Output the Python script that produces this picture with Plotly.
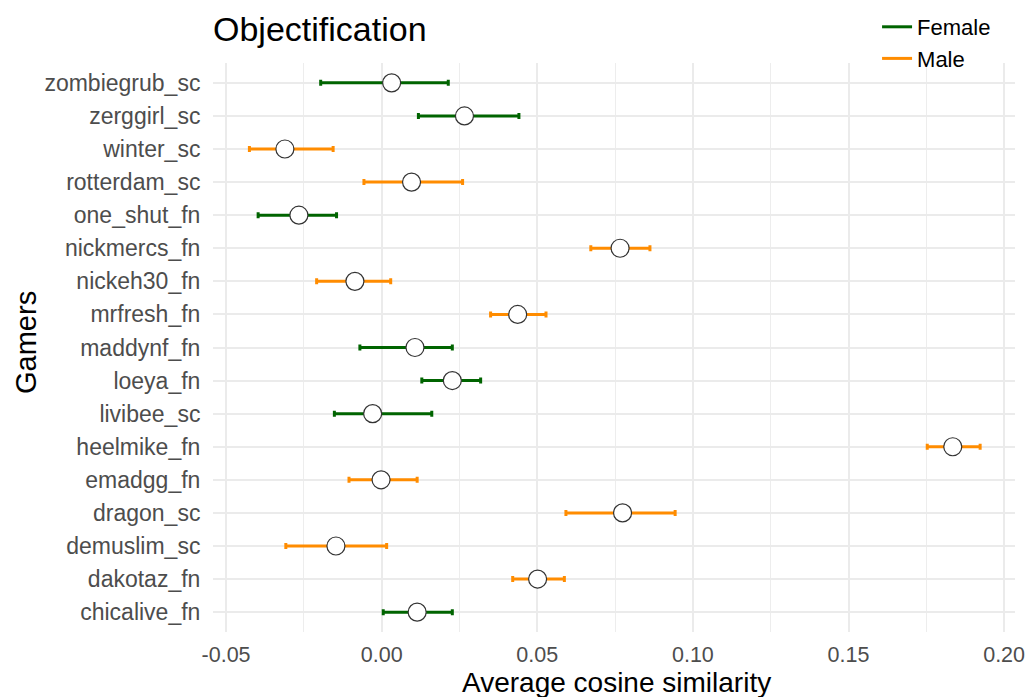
import plotly.graph_objects as go

# Data (top to bottom in the chart)
gamers = ["zombiegrub_sc", "zerggirl_sc", "winter_sc", "rotterdam_sc", "one_shut_fn",
          "nickmercs_fn", "nickeh30_fn", "mrfresh_fn", "maddynf_fn", "loeya_fn",
          "livibee_sc", "heelmike_fn", "emadgg_fn", "dragon_sc", "demuslim_sc",
          "dakotaz_fn", "chicalive_fn"]
gender = ["Female", "Female", "Male", "Male", "Female",
          "Male", "Male", "Male", "Female", "Female",
          "Female", "Male", "Male", "Male", "Male",
          "Male", "Female"]
mean_sim = [0.0032, 0.0266, -0.0311, 0.0096, -0.0266,
            0.0766, -0.0086, 0.0437, 0.0107, 0.0227,
            -0.0029, 0.1835, -0.0002, 0.0774, -0.0147,
            0.0501, 0.0114]
ci_low = [-0.0196, 0.0118, -0.0425, -0.0057, -0.0397,
          0.0672, -0.0209, 0.0350, -0.0070, 0.0129,
          -0.0152, 0.1753, -0.0105, 0.0592, -0.0308,
          0.0421, 0.0005]
ci_high = [0.0214, 0.0441, -0.0156, 0.0260, -0.0145,
           0.0862, 0.0029, 0.0528, 0.0227, 0.0318,
           0.0161, 0.1923, 0.0114, 0.0943, 0.0016,
           0.0587, 0.0227]

colors = {"Female": "#006400", "Male": "#FF8C00"}
FONT = "Liberation Sans, Arial, Helvetica, sans-serif"

W, H = 1029, 697
ML, MR, MT, MB = 213, 14, 63, 65
PH = H - MT - MB

def py(pix):
    """paper y from pixel row"""
    return (H - MB - pix) / PH

def px(pix):
    return (pix - ML) / (W - ML - MR)

fig = go.Figure()

for g in ["Female", "Male"]:
    idx = [i for i, v in enumerate(gender) if v == g]
    xs = [mean_sim[i] for i in idx]
    ys = [gamers[i] for i in idx]
    plus = [ci_high[i] - mean_sim[i] for i in idx]
    minus = [mean_sim[i] - ci_low[i] for i in idx]
    fig.add_trace(go.Scatter(
        x=xs, y=ys, mode="markers", showlegend=False, name=g,
        marker=dict(size=18, color="white", line=dict(color="#333333", width=1.2)),
        error_x=dict(type="data", symmetric=False, array=plus, arrayminus=minus,
                     color=colors[g], thickness=3, width=3),
    ))

for g in ["Female", "Male"]:
    fig.add_trace(go.Scatter(
        x=[None], y=[None], mode="lines", name=g,
        line=dict(color=colors[g], width=3),
    ))

fig.update_layout(
    width=W, height=H,
    margin=dict(l=ML, r=MR, t=MT, b=MB, autoexpand=False),
    paper_bgcolor="white", plot_bgcolor="white",
    font=dict(family=FONT, color="#4D4D4D", size=22),
    title=dict(text="Objectification", x=213 / W, xanchor="left",
               y=1 - 29 / H, yanchor="middle",
               font=dict(family=FONT, size=34, color="black")),
    legend=dict(x=0.828, y=py(6), xanchor="left", yanchor="top",
                font=dict(family=FONT, size=22, color="black"),
                bgcolor="rgba(0,0,0,0)", tracegroupgap=0),
    xaxis=dict(
        range=[-0.0542, 0.2035],
        tickvals=[-0.05, 0.0, 0.05, 0.10, 0.15, 0.20],
        ticktext=["-0.05", "0.00", "0.05", "0.10", "0.15", "0.20"],
        showgrid=True, gridcolor="#EBEBEB", gridwidth=2,
        zeroline=False, showline=False,
        ticks="outside", ticklen=3, tickcolor="rgba(0,0,0,0)",
        tickfont=dict(family=FONT, size=21.5, color="#4D4D4D"),
        minor=dict(dtick=0.025, tick0=0, showgrid=True, gridcolor="#EDEDED", gridwidth=1),
        automargin=False,
    ),
    yaxis=dict(
        type="category",
        categoryorder="array", categoryarray=gamers[::-1],
        range=[-0.6, 16.6],
        showgrid=True, gridcolor="#EBEBEB", gridwidth=2,
        zeroline=False, showline=False,
        ticks="outside", ticklen=7, tickcolor="rgba(0,0,0,0)",
        tickfont=dict(family=FONT, size=23, color="#4D4D4D"),
        automargin=False,
    ),
    annotations=[
        dict(text="Average cosine similarity", xref="paper", yref="paper",
             x=px(616), y=py(665), xanchor="center", yanchor="top",
             showarrow=False, font=dict(family=FONT, size=28, color="black")),
        dict(text="Gamers", xref="paper", yref="paper",
             x=px(26), y=py(343), xanchor="center", yanchor="middle",
             textangle=-90, showarrow=False,
             font=dict(family=FONT, size=29, color="black")),
    ],
)

fig.write_html("out.html")
